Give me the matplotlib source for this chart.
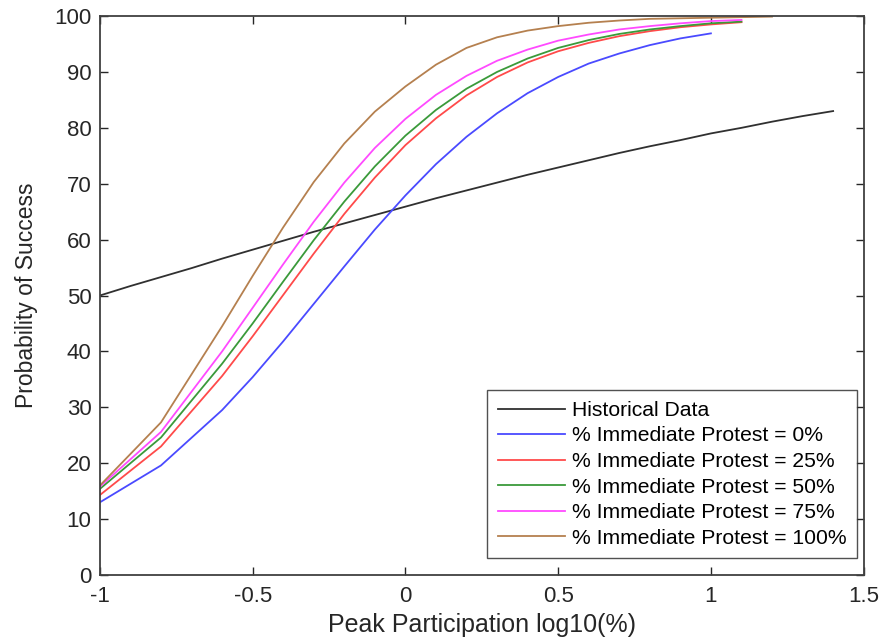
import numpy as np
import matplotlib
matplotlib.use('Agg')
import matplotlib.pyplot as plt

plt.rcParams['font.family'] = ['Liberation Sans', 'DejaVu Sans']

# historical fit
x_hist = [-1.0, -0.9, -0.8, -0.7, -0.6, -0.5, -0.4, -0.3, -0.2, -0.1, 0.0,
          0.1, 0.2, 0.3, 0.4, 0.5, 0.6, 0.7, 0.8, 0.9, 1.0, 1.1, 1.2, 1.3, 1.4]
y_hist = [50.0, 51.7, 53.3, 54.9, 56.6, 58.2, 59.8, 61.4, 62.9, 64.4, 65.9,
          67.4, 68.8, 70.2, 71.6, 72.9, 74.2, 75.5, 76.7, 77.8, 79.0, 80.0, 81.1, 82.1, 83.0]

# model curves, one per % immediate protest
x_model = [-1.0, -0.8, -0.6, -0.5, -0.4, -0.3, -0.2, -0.1, 0.0, 0.1, 0.2,
           0.3, 0.4, 0.5, 0.6, 0.7, 0.8, 0.9, 1.0, 1.1, 1.2]
y_0 = [13.0, 19.6, 29.5, 35.4, 41.8, 48.5, 55.2, 61.8, 67.9, 73.5, 78.4,
       82.6, 86.2, 89.1, 91.5, 93.3, 94.8, 96.0, 96.9]
y_25 = [14.3, 23.0, 35.6, 42.7, 50.1, 57.5, 64.6, 71.1, 76.9, 81.7, 85.8,
        89.1, 91.7, 93.7, 95.2, 96.4, 97.3, 98.0, 98.5, 98.9]
y_50 = [15.4, 24.6, 37.8, 45.0, 52.5, 59.9, 66.8, 73.1, 78.6, 83.2, 87.0,
        90.0, 92.4, 94.3, 95.7, 96.8, 97.6, 98.2, 98.7, 99.0]
y_75 = [15.8, 25.6, 40.0, 47.8, 55.6, 63.2, 70.2, 76.4, 81.6, 85.9, 89.3,
        92.0, 94.0, 95.6, 96.7, 97.6, 98.2, 98.7, 99.1, 99.3]
y_100 = [16.0, 27.3, 44.5, 53.5, 62.2, 70.3, 77.2, 82.9, 87.4, 91.3, 94.3,
         96.2, 97.4, 98.2, 98.8, 99.2, 99.5, 99.6, 99.7, 99.8, 99.9]

labels = ['% Immediate Protest = 0%', '% Immediate Protest = 25%',
          '% Immediate Protest = 50%', '% Immediate Protest = 75%',
          '% Immediate Protest = 100%']
colors = ['#4a4aff', '#ff4a4a', '#3a9a3a', '#ff4aff', '#b5804f']

fig = plt.figure(figsize=(8.84, 6.42), dpi=100)
ax = fig.add_axes([0.113, 0.1044, 0.864, 0.8706])

ax.plot(x_hist, y_hist, color='#303030', lw=1.3, label='Historical Data')
for ys, c, lab in zip([y_0, y_25, y_50, y_75, y_100], colors, labels):
    ax.plot(x_model[:len(ys)], ys, color=c, lw=1.3, label=lab)

ax.set_xlim(-1, 1.5)
ax.set_ylim(0, 100)
ax.set_xticks([-1, -0.5, 0, 0.5, 1, 1.5])
ax.set_xticklabels(['-1', '-0.5', '0', '0.5', '1', '1.5'])
ax.set_yticks(range(0, 101, 10))
ax.tick_params(direction='in', top=True, right=True, length=6, width=1,
               labelsize=16, colors='#262626')
ax.tick_params(axis='x', pad=8)
ax.tick_params(axis='y', pad=6)
for sp in ax.spines.values():
    sp.set_color('#404040')
    sp.set_linewidth(1.3)

ax.set_xlabel('Peak Participation log10(%)', fontsize=18, color='#262626', labelpad=4)
ax.set_ylabel('Probability of Success', fontsize=16.5, color='#262626', labelpad=12)

leg = ax.legend(loc='lower right', bbox_to_anchor=(0.991, 0.03), borderaxespad=0,
                fontsize=15.2, frameon=True, fancybox=False,
                edgecolor='#262626', handlelength=3.2, handletextpad=0.3,
                borderpad=0.5, labelspacing=0.31)
leg.get_frame().set_linewidth(1.0)

fig.savefig('out.png', dpi=100)
